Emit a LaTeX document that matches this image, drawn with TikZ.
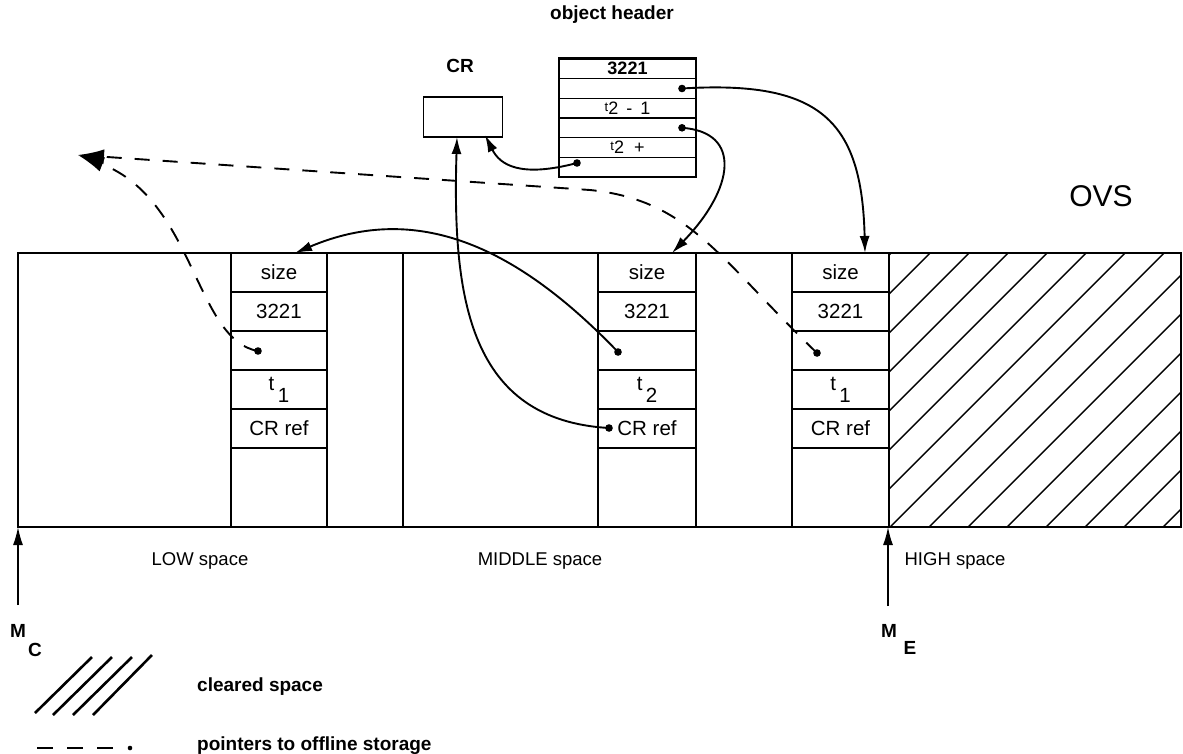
\documentclass[tikz,border=0pt]{standalone}
\usepackage{fontspec}
\setmainfont{Liberation Sans}
\usetikzlibrary{arrows.meta,calc}
\begin{document}
\begin{tikzpicture}[x=1pt,y=-1pt,
  cell/.style={draw,line width=1.5pt,inner sep=0pt,minimum height=39pt,font=\fontsize{20.5}{21}\selectfont},
  hrow/.style={draw,line width=1.4pt,inner sep=0pt,minimum width=137pt,minimum height=19.67pt,font=\fontsize{18}{18}\selectfont},
  lbl/.style={font=\fontsize{19}{20}\selectfont\bfseries,inner sep=0pt},
  plain/.style={font=\fontsize{18.5}{20}\selectfont,inner sep=0pt},
  mlbl/.style={font=\fontsize{19}{19}\selectfont\bfseries,inner sep=0pt},
  conn/.style={line width=1.9pt,-{Latex[length=17pt,width=10pt]}},
  off/.style={line width=1.9pt,dash pattern=on 15pt off 13pt},
  upar/.style={line width=1.5pt,-{Latex[length=18pt,width=10pt]}}
]
\useasboundingbox (0,0) rectangle (1183,753);

% ---- hatch (cleared space) ----
\begin{scope}
\clip (889,253) rectangle (1181,527);
\foreach \x in {578,617,...,1180} \draw[line width=1.4pt] (\x,527) -- (\x+274,253);
\end{scope}

% ---- OVS rectangle ----
\draw[line width=2.6pt] (18,253) rectangle (1181,527);
\draw[line width=2.3pt] (403,253) -- (403,527);
\draw[line width=2.3pt] (792,253) -- (792,527);
\draw[line width=1.6pt] (889,253) -- (889,527);

% ---- LOW column ----
\begin{scope}[every node/.append style={cell,minimum width=96pt}]
\node (ls) at (279,272.5) {size};
\node (ln) at (279,311.5) {3221};
\node (lp) at (279,350.5) {};
\node (lt) at (279,389.5) {\raisebox{5pt}{t}\,\raisebox{-7pt}{1}};
\node (lc) at (279,428.5) {CR ref};
\node[minimum height=79pt] (le) at (279,487.5) {};
\end{scope}
% ---- MIDDLE column ----
\begin{scope}[every node/.append style={cell,minimum width=98pt}]
\node (ms) at (647,272.5) {size};
\node (mn) at (647,311.5) {3221};
\node (mp) at (647,350.5) {};
\node (mt) at (647,389.5) {\raisebox{5pt}{t}\,\raisebox{-7pt}{2}};
\node (mc) at (647,428.5) {CR ref};
\node[minimum height=79pt] (me) at (647,487.5) {};
\end{scope}
% ---- HIGH column ----
\begin{scope}[every node/.append style={cell,minimum width=97pt}]
\node (hs) at (840.5,272.5) {size};
\node (hn) at (840.5,311.5) {3221};
\node (hp) at (840.5,350.5) {};
\node (ht) at (840.5,389.5) {\raisebox{5pt}{t}\,\raisebox{-7pt}{1}};
\node (hc) at (840.5,428.5) {CR ref};
\node[minimum height=79pt] (he) at (840.5,487.5) {};
\end{scope}

% ---- object header ----
\node[lbl] (ohl) at (612,15) {object header};
\node[hrow] (h1) at (627.5,68.8) {\bfseries 3221};
\node[hrow] (h2) at (627.5,88.5) {};
\node[hrow] (h3) at (627.5,108.2) {\raisebox{3pt}{\fontsize{13}{13}\selectfont t}2 \,-\, 1};
\node[hrow] (h4) at (627.5,127.8) {};
\node[hrow] (h5) at (627.5,147.5) {\raisebox{3pt}{\fontsize{13}{13}\selectfont t}2 \ +};
\node[hrow] (h6) at (627.5,167.2) {};
\draw[line width=2.4pt] (h1.north west) -- (h1.north east);

% ---- CR ----
\node[lbl] (crl) at (460,66) {CR};
\node[draw,line width=1.6pt,minimum width=79pt,minimum height=40pt,inner sep=0pt] (cr) at (463,117) {};

% ---- labels ----
\node[font=\fontsize{30}{32}\selectfont,inner sep=0pt] (ovs) at (1101,196) {OVS};
\node[plain] (lowl) at (200,561) {LOW space};
\node[plain] (midl) at (540,561) {MIDDLE space};
\node[plain] (highl) at (955,561) {HIGH space};
\node[mlbl] (mcm) at (18,631) {M};
\node[mlbl] (mcc) at (35,650) {C};
\node[mlbl] (mem) at (889,631) {M};
\node[mlbl] (mee) at (910,648) {E};

% ---- M arrows ----
\coordinate (mcbase) at (18,605);
\coordinate (mctip) at (18,527);
\coordinate (mebase) at (888,606);
\coordinate (metip) at (888,527);
\draw[upar] (mcbase) -- (mctip);
\draw[upar] (mebase) -- (metip);

% ---- pointer dots ----
\coordinate (d2) at (682,88.5);
\coordinate (d4) at (682,127.8);
\coordinate (d6) at (577,163);
\coordinate (dlp) at (258,351);
\coordinate (dmp) at (618,352);
\coordinate (dhp) at (817,353);
\coordinate (dmc) at (609,428);
\foreach \p in {d2,d4,d6,dlp,dmp,dhp,dmc} \fill (\p) circle (3.8);

% ---- targets ----
\coordinate (thigh) at (865,253);
\coordinate (tmid) at (672,253);
\coordinate (tlow) at (295,253);
\coordinate (tcr) at (485,135);
\coordinate (tcrb) at (457,137);
\coordinate (offtip) at (78,155);
\coordinate (offbend) at (590,190);

% ---- solid connectors ----
\draw[conn] (d2) .. controls (820,80) and (862,120) .. (thigh);
\draw[conn] (d4) .. controls (742,132) and (735,188) .. (tmid);
\draw[conn] (d6) .. controls (520,178) and (500,165) .. (tcr);
\draw[conn] (dmc) .. controls (470,420) and (452,300) .. (tcrb);
\draw[conn] (dmp) .. controls (520,250) and (420,200) .. (tlow);

% ---- offline pointers (dashed) ----
\draw[off,-{Latex[length=26pt,width=15pt]}] (dhp) .. controls (720,260) and (690,200) .. (offbend) -- (offtip);
\draw[off,-{Latex[length=26pt,width=15pt]}] (dlp) .. controls (195,340) and (195,200) .. (offtip);

% ---- legend ----
\draw[line width=2.6pt] (35,713) -- (92,657);
\draw[line width=2.6pt] (53,715) -- (112,657);
\draw[line width=2.6pt] (73,715) -- (132,657);
\draw[line width=2.6pt] (93,715) -- (152,655);
\node[lbl,anchor=west] (lg1) at (197,687) {cleared space};
\draw[line width=2.4pt,dash pattern=on 16pt off 14pt] (37,748) -- (113,748);
\fill (130,748) circle (2.3);
\node[lbl,anchor=west] (lg2) at (197,746) {pointers to offline storage};
\end{tikzpicture}
\end{document}
